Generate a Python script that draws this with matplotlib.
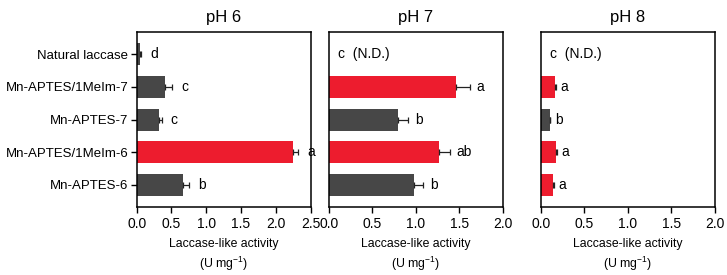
import matplotlib.pyplot as plt
import numpy as np

plt.rcParams['font.family'] = ['Liberation Sans', 'DejaVu Sans']
plt.rcParams['mathtext.default'] = 'regular'

samples = ["Natural laccase", "Mn-APTES/1MeIm-7", "Mn-APTES-7",
           "Mn-APTES/1MeIm-6", "Mn-APTES-6"]
titles = ["pH 6", "pH 7", "pH 8"]

# activity (U mg-1), None = not detected
act_ph6 = [0.05, 0.40, 0.32, 2.24, 0.66]
err_ph6 = [0.01, 0.11, 0.04, 0.08, 0.09]
lab_ph6 = ["d", "c", "c", "a", "b"]

act_ph7 = [None, 1.46, 0.79, 1.26, 0.98]
err_ph7 = [0, 0.16, 0.12, 0.13, 0.10]
lab_ph7 = ["c  (N.D.)", "a", "b", "ab", "b"]

act_ph8 = [None, 0.16, 0.10, 0.17, 0.14]
err_ph8 = [0, 0.01, 0.01, 0.01, 0.01]
lab_ph8 = ["c  (N.D.)", "a", "b", "a", "a"]

red = "#ED1C2E"
grey = "#474747"
col_ph6 = [grey, grey, grey, red, grey]
col_ph7 = [grey, red, grey, red, grey]
col_ph8 = [grey, red, grey, red, red]

xmax = [2.5, 2.0, 2.0]
panels = [(act_ph6, err_ph6, lab_ph6, col_ph6),
          (act_ph7, err_ph7, lab_ph7, col_ph7),
          (act_ph8, err_ph8, lab_ph8, col_ph8)]
gaps = [0.13, 0.08, 0.05]

fig = plt.figure(figsize=(7.27, 2.75), dpi=100)
lefts = [0.188, 0.4525, 0.744]
ypos = np.arange(len(samples))[::-1]

for i, (act, err, lab, col) in enumerate(panels):
    ax = fig.add_axes([lefts[i], 0.247, 0.2393, 0.636])
    for y, a, e, l, c in zip(ypos, act, err, lab, col):
        if a is None:
            ax.text(0.1, y, l, ha='left', va='center', fontsize=10)
            continue
        ax.barh(y, a, height=0.68, color=c, edgecolor='none', zorder=2)
        ax.errorbar(a, y, xerr=[[0], [e]], fmt='none', ecolor='#222222',
                    elinewidth=0.9, capsize=2, capthick=0.9, zorder=3)
        ax.text(a + e + gaps[i], y, l, ha='left', va='center', fontsize=10)
    ax.set_xlim(0, xmax[i])
    ax.set_ylim(-0.68, 4.68)
    ticks = np.arange(0, xmax[i] + 0.01, 0.5)
    ax.set_xticks(ticks)
    ax.set_xticklabels([f"{v:.1f}" for v in ticks])
    ax.set_yticks(ypos)
    if i == 0:
        ax.set_yticklabels(samples, fontsize=9.5)
    else:
        ax.tick_params(axis='y', left=False, labelleft=False)
    ax.tick_params(axis='x', labelsize=10, length=4, width=1, pad=3)
    ax.tick_params(axis='y', length=4, width=1, pad=2)
    for s in ax.spines.values():
        s.set_linewidth(1.1)
    ax.set_title(titles[i], fontsize=12, pad=7)
    ax.set_xlabel("Laccase-like activity\n(U mg$^{-1}$)", fontsize=8.8,
                  labelpad=5, linespacing=1.35)

plt.savefig("out.png", dpi=100)
